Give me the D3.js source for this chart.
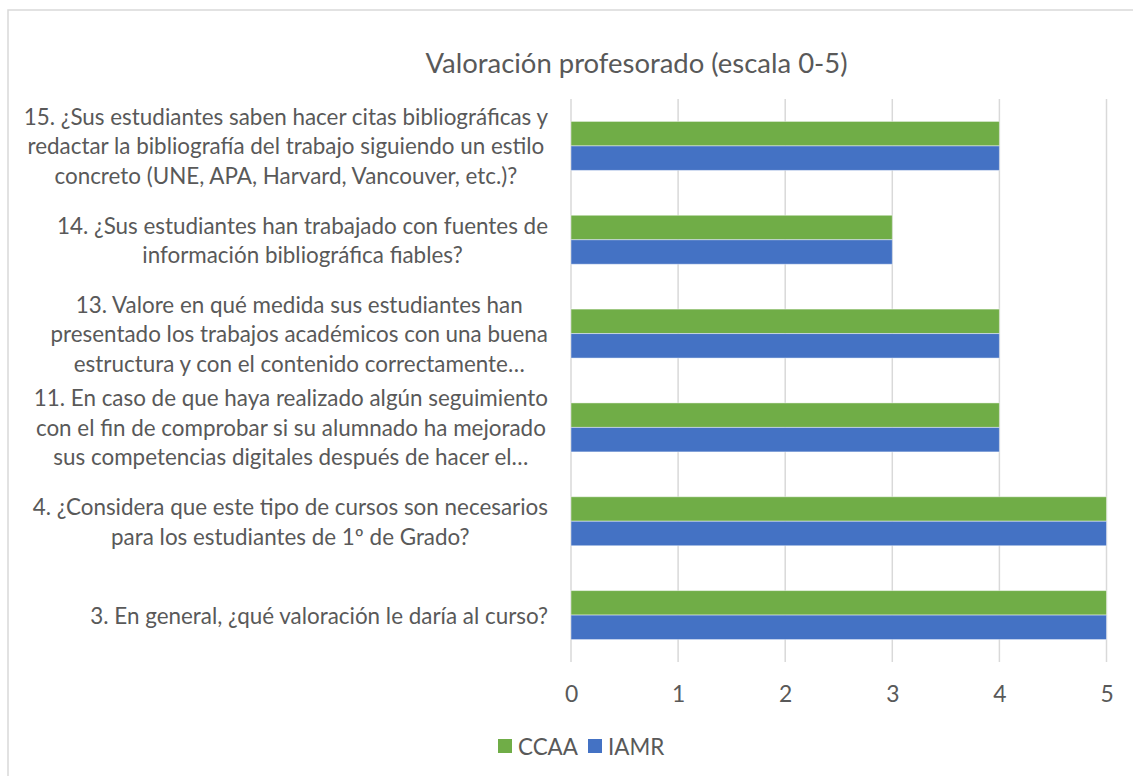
<!DOCTYPE html>
<html>
<head>
<meta charset="utf-8">
<script src="https://cdn.jsdelivr.net/npm/d3@7"></script>
<style>
html,body{margin:0;padding:0;background:#fff;}
svg{display:block;}
text{font-family:Lato, "Open Sans", sans-serif;fill:#595959;}
</style>
</head>
<body>
<svg id="chart" width="1133" height="776"></svg>
<script>
const title = "Valoración profesorado (escala 0-5)";
const categories = ["15", "14", "13", "11", "4", "3"];
const categoryLabels = [
  ["15. ¿Sus estudiantes saben hacer citas bibliográficas y", "redactar la bibliografía del trabajo siguiendo un estilo", "concreto (UNE, APA, Harvard, Vancouver, etc.)?"],
  ["14. ¿Sus estudiantes han trabajado con fuentes de", "información bibliográfica fiables?"],
  ["13. Valore en qué medida sus estudiantes han", "presentado los trabajos académicos con una buena", "estructura y con el contenido correctamente…"],
  ["11. En caso de que haya realizado algún seguimiento", "con el fin de comprobar si su alumnado ha mejorado", "sus competencias digitales después de hacer el…"],
  ["4. ¿Considera que este tipo de cursos son necesarios", "para los estudiantes de 1º de Grado?"],
  ["3. En general, ¿qué valoración le daría al curso?"]
];
const seriesNames = ["CCAA", "IAMR"];
const seriesColors = ["#70AD47", "#4472C4"];
const valuesCCAA = [4, 3, 4, 4, 5, 5];
const valuesIAMR = [4, 3, 4, 4, 5, 5];
const xTicks = [0, 1, 2, 3, 4, 5];

const svg = d3.select("#chart");
const W = 1133, H = 776;

// chart border
svg.append("rect").attr("x", 8).attr("y", 10).attr("width", W).attr("height", H)
  .attr("fill", "#fff").attr("stroke", "#d9d9d9").attr("stroke-width", 1.5);

const plot = {left: 571, right: 1106.5, top: 99, bottom: 662};
const x = d3.scaleLinear().domain([0, 5]).range([plot.left, plot.right]);
const y = d3.scaleBand().domain(categories).range([plot.top, plot.bottom])
  .paddingInner(0.478).paddingOuter(0.239);
const ySub = d3.scaleBand().domain(seriesNames).range([0, y.bandwidth()]);

// font size calibration
const probe = svg.append("text").attr("font-size", 20).text(categoryLabels[5][0]);
const w20 = probe.node().getComputedTextLength();
probe.remove();
const fs = 20 * 458 / w20;

// title
svg.append("text").attr("x", 636.5).attr("y", 62).attr("text-anchor", "middle")
  .attr("dominant-baseline", "central").attr("font-size", fs * 1.225).text(title);

// gridlines
svg.append("g").selectAll("line").data(xTicks).join("line")
  .attr("x1", d => x(d)).attr("x2", d => x(d))
  .attr("y1", plot.top).attr("y2", plot.bottom)
  .attr("stroke", "#d9d9d9").attr("stroke-width", 1.5);

// x axis labels
const xAxis = d3.axisBottom(x).tickValues(xTicks).tickSize(0).tickPadding(0).tickFormat(d3.format("d"));
const gx = svg.append("g").attr("transform", `translate(0,${plot.bottom})`).call(xAxis);
gx.select(".domain").remove();
gx.selectAll("text").attr("font-size", fs * 1.02).attr("fill", "#595959")
  .attr("font-family", "Lato, 'Open Sans', sans-serif")
  .attr("dy", null).attr("y", 31).attr("dominant-baseline", "central");

// bars
const data = categories.map((c, i) => ({cat: c, vals: [valuesCCAA[i], valuesIAMR[i]]}));
const groups = svg.append("g").selectAll("g").data(data).join("g")
  .attr("transform", d => `translate(0,${y(d.cat)})`);
groups.selectAll("rect").data(d => d.vals.map((v, j) => ({s: seriesNames[j], v, c: seriesColors[j]})))
  .join("rect")
  .attr("x", x(0)).attr("y", d => ySub(d.s))
  .attr("width", d => x(d.v) - x(0)).attr("height", ySub.bandwidth())
  .attr("fill", d => d.c).attr("stroke", "#fff").attr("stroke-opacity", 0.45).attr("stroke-width", 1);

// category labels: block right-aligned, lines centered
const labelRight = 548;
const lineH = 29.5;
categories.forEach((c, i) => {
  const lines = categoryLabels[i];
  const g = svg.append("g");
  const cy = y(c) + y.bandwidth() / 2;
  const ts = lines.map((ln, k) => g.append("text").attr("font-size", fs)
    .attr("y", cy + (k - (lines.length - 1) / 2) * lineH)
    .attr("dominant-baseline", "central").attr("text-anchor", "middle").text(ln));
  const maxW = d3.max(ts, t => t.node().getComputedTextLength());
  ts.forEach(t => t.attr("x", labelRight - maxW / 2));
});

// legend
const legend = svg.append("g");
const legX = [498, 588];
seriesNames.forEach((s, j) => {
  legend.append("rect").attr("x", legX[j]).attr("y", 739).attr("width", 14).attr("height", 14).attr("fill", seriesColors[j]);
  legend.append("text").attr("x", legX[j] + 20).attr("y", 746).attr("dominant-baseline", "central")
    .attr("font-size", fs).text(s);
});
</script>
</body>
</html>
